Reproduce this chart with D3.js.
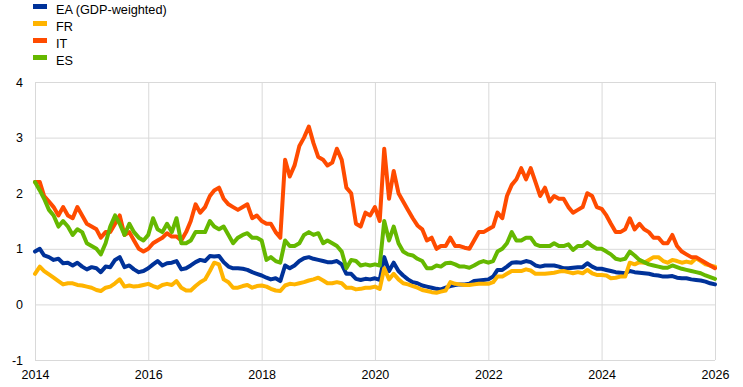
<!DOCTYPE html>
<html><head><meta charset="utf-8">
<script src="https://cdn.jsdelivr.net/npm/d3@7"></script>
<style>
body{margin:0;background:#fff}
svg{display:block}
text{font-family:Arial,"Liberation Sans",sans-serif;fill:#000}
</style>
</head><body>
<svg id="chart" width="743" height="387"></svg>
<script>
// ---- data (monthly observations, first of month, Jan 2014 .. Jan 2026) ----
const seriesNames = ["EA (GDP-weighted)", "FR", "IT", "ES"];
const seriesColors = ["#003299", "#FFB400", "#FF4B00", "#65B800"];
const firstMonth = "2014-01-01";
const lastMonth = "2026-01-01";

const eaValues = [
  0.95,1.0,0.88,0.85,0.8,0.82,0.74,0.75,0.7,0.75,0.68,0.63,
  0.67,0.65,0.58,0.68,0.67,0.8,0.85,0.67,0.7,0.63,0.58,0.6,
  0.65,0.72,0.78,0.7,0.74,0.75,0.78,0.63,0.65,0.7,0.76,0.8,
  0.78,0.87,0.86,0.87,0.76,0.68,0.65,0.65,0.64,0.62,0.58,0.55,
  0.52,0.48,0.45,0.47,0.42,0.7,0.65,0.7,0.78,0.83,0.85,0.82,
  0.8,0.78,0.76,0.76,0.78,0.72,0.55,0.55,0.46,0.44,0.46,0.45,
  0.47,0.44,0.85,0.6,0.75,0.6,0.52,0.45,0.4,0.38,0.34,0.32,
  0.3,0.28,0.27,0.3,0.33,0.35,0.36,0.36,0.37,0.42,0.43,0.44,
  0.45,0.5,0.62,0.62,0.68,0.75,0.76,0.75,0.78,0.76,0.7,0.68,
  0.7,0.7,0.7,0.68,0.65,0.65,0.66,0.67,0.67,0.74,0.68,0.64,
  0.64,0.62,0.6,0.58,0.57,0.56,0.6,0.58,0.57,0.56,0.55,0.53,
  0.52,0.5,0.5,0.51,0.48,0.47,0.47,0.45,0.44,0.43,0.41,0.38,
  0.36
];
const frValues = [
  0.55,0.68,0.6,0.54,0.48,0.42,0.36,0.38,0.38,0.35,0.34,0.32,
  0.3,0.26,0.24,0.3,0.32,0.38,0.45,0.32,0.34,0.32,0.33,0.35,
  0.37,0.33,0.3,0.35,0.37,0.35,0.42,0.3,0.25,0.25,0.33,0.4,
  0.45,0.6,0.75,0.72,0.45,0.4,0.3,0.3,0.33,0.35,0.3,0.33,
  0.34,0.32,0.28,0.25,0.24,0.34,0.37,0.36,0.38,0.4,0.43,0.45,
  0.48,0.43,0.38,0.38,0.4,0.38,0.3,0.3,0.27,0.28,0.3,0.3,
  0.32,0.28,0.65,0.45,0.55,0.45,0.38,0.36,0.33,0.3,0.26,0.24,
  0.22,0.21,0.23,0.25,0.4,0.37,0.36,0.35,0.35,0.36,0.37,0.37,
  0.37,0.4,0.5,0.5,0.55,0.6,0.6,0.6,0.63,0.61,0.55,0.55,
  0.55,0.56,0.57,0.59,0.6,0.58,0.56,0.58,0.56,0.62,0.56,0.53,
  0.53,0.52,0.47,0.48,0.5,0.5,0.75,0.72,0.76,0.75,0.8,0.85,
  0.85,0.78,0.75,0.8,0.78,0.75,0.77,0.75,0.83,0.78,0.72,0.7,
  0.68
];
const itValues = [
  2.2,2.2,1.95,1.85,1.75,1.6,1.75,1.6,1.55,1.75,1.6,1.45,
  1.4,1.35,1.2,1.3,1.3,1.45,1.6,1.25,1.3,1.15,1.0,0.95,
  1.0,1.1,1.15,1.2,1.28,1.22,1.22,1.15,1.3,1.5,1.8,1.65,
  1.75,1.95,2.05,2.1,1.9,1.8,1.75,1.7,1.75,1.8,1.55,1.6,
  1.5,1.45,1.45,1.3,1.2,2.6,2.3,2.5,2.85,3.0,3.2,2.9,
  2.65,2.6,2.5,2.55,2.8,2.6,2.1,2.0,1.45,1.4,1.65,1.6,
  1.75,1.5,2.8,1.9,2.4,2.0,1.85,1.7,1.55,1.42,1.35,1.15,
  1.2,1.0,1.05,1.05,1.2,1.05,1.05,1.02,1.0,1.15,1.3,1.3,
  1.35,1.4,1.65,1.55,1.95,2.15,2.25,2.45,2.25,2.45,2.2,1.95,
  2.1,1.85,1.95,1.9,1.9,1.75,1.65,1.7,1.75,2.0,1.95,1.75,
  1.72,1.6,1.45,1.3,1.3,1.35,1.55,1.35,1.45,1.35,1.3,1.2,
  1.2,1.1,1.1,1.25,1.05,0.95,0.9,0.85,0.85,0.8,0.75,0.7,
  0.65
];
const esValues = [
  2.2,2.05,1.9,1.7,1.6,1.4,1.5,1.4,1.25,1.35,1.3,1.1,
  1.05,1.0,0.9,1.1,1.4,1.6,1.45,1.25,1.45,1.3,1.2,1.15,
  1.25,1.55,1.35,1.3,1.45,1.3,1.55,1.1,1.1,1.15,1.3,1.3,
  1.3,1.5,1.4,1.35,1.4,1.25,1.1,1.2,1.25,1.28,1.2,1.2,
  1.15,0.8,0.85,0.78,0.75,1.15,1.05,1.05,1.1,1.25,1.3,1.25,
  1.28,1.1,1.15,1.1,1.05,0.95,0.65,0.8,0.78,0.7,0.72,0.7,
  0.72,0.7,1.5,1.15,1.4,1.1,0.95,0.9,0.88,0.82,0.78,0.65,
  0.65,0.7,0.68,0.74,0.75,0.72,0.68,0.68,0.66,0.7,0.75,0.78,
  0.75,0.78,0.95,1.0,1.1,1.3,1.15,1.15,1.2,1.2,1.08,1.05,
  1.05,1.05,1.1,1.05,1.05,1.08,0.98,1.05,1.05,1.12,1.05,1.0,
  1.0,0.95,0.9,0.82,0.8,0.82,0.95,0.88,0.8,0.76,0.72,0.7,
  0.68,0.66,0.66,0.7,0.67,0.64,0.62,0.6,0.58,0.56,0.52,0.49,
  0.46
];
const yTickValues = [-1, 0, 1, 2, 3, 4];
const xTickYears = [2014, 2016, 2018, 2020, 2022, 2024, 2026];

(function () {
  const svg = d3.select("#chart");
  const mLeft = 35, mRight = 715, mTop = 82, mBottom = 360;
  const parse = d3.timeParse("%Y-%m-%d");
  const d0 = parse(firstMonth), d1 = parse(lastMonth);
  const dates = d3.timeMonth.range(d0, d3.timeMonth.offset(d1, 1));

  const x = d3.scaleTime().domain([d0, d1]).range([mLeft, mRight]);
  const y = d3.scaleLinear().domain([-1, 4]).range([mBottom, mTop]);
  const gridColor = "#d9d9d9";

  const yAxis = svg.append("g").attr("transform", `translate(${mLeft},0)`)
    .call(d3.axisLeft(y).tickValues(yTickValues).tickSize(-(mRight - mLeft)).tickPadding(12)
          .tickFormat(d => String(d)));
  yAxis.select(".domain").remove();
  yAxis.selectAll(".tick line").attr("stroke", gridColor).attr("stroke-width", 1);
  yAxis.selectAll(".tick text").attr("font-size", 12.5).attr("fill", "#000");

  const xAxis = svg.append("g").attr("transform", `translate(0,${mBottom})`)
    .call(d3.axisBottom(x).tickValues(xTickYears.map(yr => new Date(yr, 0, 1)))
          .tickSize(-(mBottom - mTop)).tickPadding(10).tickFormat(d3.timeFormat("%Y")));
  xAxis.select(".domain").remove();
  xAxis.selectAll(".tick line").attr("stroke", gridColor).attr("stroke-width", 1);
  xAxis.selectAll(".tick text").attr("font-size", 12.5).attr("fill", "#000");

  const allValues = [eaValues, frValues, itValues, esValues];
  const line = d3.line().x(d => x(d.date)).y(d => y(d.v));
  allValues.forEach((vals, i) => {
    const data = dates.map((dt, k) => ({date: dt, v: vals[k]}));
    svg.append("path").datum(data)
      .attr("fill", "none")
      .attr("stroke", seriesColors[i])
      .attr("stroke-width", 4)
      .attr("stroke-linejoin", "round")
      .attr("stroke-linecap", "round")
      .attr("d", line);
  });

  const legend = svg.append("g");
  seriesNames.forEach((name, i) => {
    const ty = 4 + i * 17;
    legend.append("rect").attr("x", 33).attr("y", ty).attr("width", 14).attr("height", 5)
      .attr("fill", seriesColors[i]);
    legend.append("text").attr("x", 56).attr("y", ty + 10).attr("font-size", 12.7).text(name);
  });
})();
</script>
</body></html>
